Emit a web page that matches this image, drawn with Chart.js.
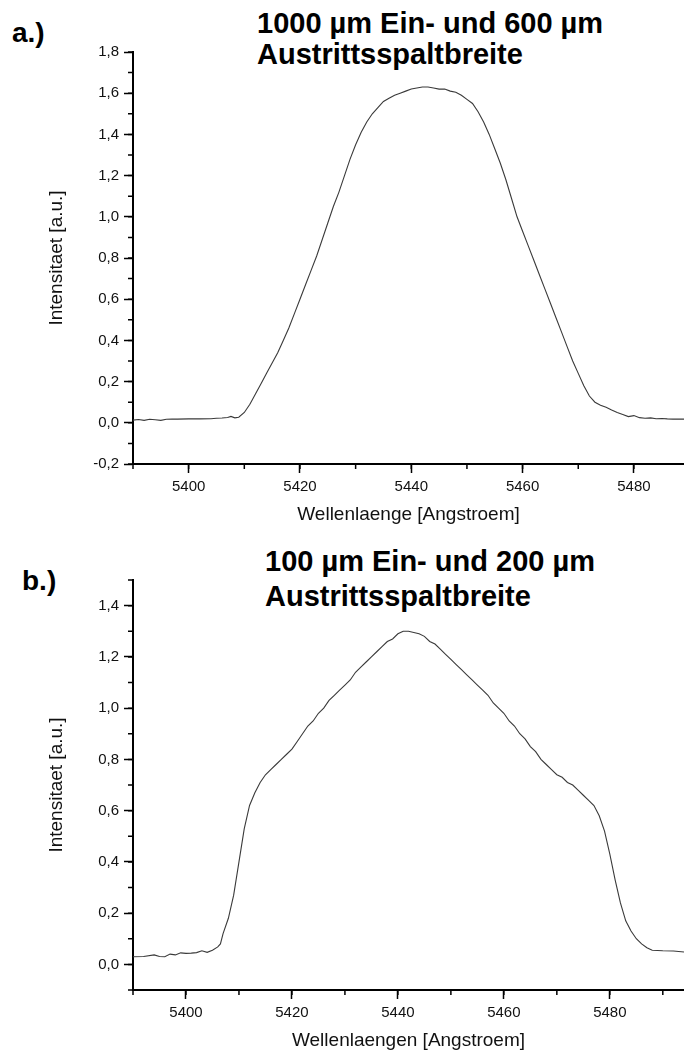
<!DOCTYPE html>
<html>
<head>
<meta charset="utf-8">
<script src="https://cdn.jsdelivr.net/npm/chart.js@4.4.1/dist/chart.umd.min.js"></script>
<style>
  body { margin: 0; background: #fff; width: 684px; height: 1055px; position: relative; overflow: hidden; }
  canvas { position: absolute; left: 0; }
  .title { position: absolute; font-family: "Liberation Sans", Arial, sans-serif; font-weight: bold; color: #000; white-space: nowrap; }
  .main { font-size: 29px; line-height: 31px; left: 257px; }
  .tag { font-size: 28px; line-height: 28px; }
</style>
</head>
<body>
<div class="title tag" style="left:12px; top:19px;">a.)</div>
<div class="title main" style="top:8px;">1000 µm Ein- und 600 µm<br>Austrittsspaltbreite</div>
<canvas id="chartA" width="684" height="526" style="top:0;"></canvas>

<div class="title tag" style="left:22px; top:567px;">b.)</div>
<div class="title main" style="left:265px; top:544px; line-height:35px;">100 µm Ein- und 200 µm<br>Austrittsspaltbreite</div>
<canvas id="chartB" width="684" height="525" style="top:530px;"></canvas>

<script>
// a.) 1000 µm entrance / 600 µm exit slit
const wavelengthsA = [5390, 5391, 5392, 5393, 5394, 5395, 5396, 5397, 5398, 5400, 5402, 5404, 5405, 5406, 5407, 5407.6, 5408.3, 5409,
  5410, 5411, 5412, 5413, 5414, 5415, 5416, 5417, 5418, 5419, 5420, 5421, 5422, 5423, 5424, 5425, 5426, 5427, 5428, 5429,
  5430, 5431, 5432, 5433, 5434, 5435, 5436, 5437, 5438, 5439, 5440, 5441, 5442, 5443, 5444, 5445, 5446, 5447, 5448, 5449,
  5450, 5451, 5452, 5453, 5454, 5455, 5456, 5457, 5458, 5459, 5460, 5461, 5462, 5463, 5464, 5465, 5466, 5467, 5468, 5469,
  5470, 5471, 5472, 5473, 5474, 5475, 5476, 5477, 5478, 5479, 5480, 5481, 5482, 5483, 5484, 5485, 5486, 5487, 5488, 5489];
const intensityA = [0.013, 0.016, 0.012, 0.017, 0.015, 0.012, 0.017, 0.018, 0.018, 0.019, 0.019, 0.020, 0.022, 0.023, 0.026, 0.031, 0.024, 0.027,
  0.05, 0.09, 0.14, 0.19, 0.24, 0.29, 0.34, 0.40, 0.46, 0.53, 0.60, 0.67, 0.74, 0.81, 0.89, 0.97, 1.05, 1.12, 1.20, 1.28,
  1.35, 1.41, 1.46, 1.50, 1.53, 1.56, 1.575, 1.59, 1.60, 1.61, 1.62, 1.625, 1.63, 1.63, 1.625, 1.62, 1.62, 1.61, 1.605, 1.59,
  1.57, 1.55, 1.51, 1.46, 1.40, 1.33, 1.26, 1.18, 1.09, 1.00, 0.93, 0.86, 0.79, 0.72, 0.65, 0.58, 0.51, 0.44, 0.37, 0.30,
  0.24, 0.18, 0.13, 0.10, 0.085, 0.075, 0.062, 0.05, 0.04, 0.03, 0.035, 0.025, 0.022, 0.024, 0.02, 0.021, 0.019, 0.018, 0.018, 0.018];

// b.) 100 µm entrance / 200 µm exit slit
const wavelengthsB = [5390, 5392, 5394, 5395, 5396, 5397, 5398, 5399, 5400, 5401, 5402, 5403, 5404, 5405, 5406, 5406.5, 5407, 5408, 5409,
  5410, 5411, 5412, 5413, 5414, 5415, 5416, 5417, 5418, 5419, 5420, 5421, 5422, 5423, 5424, 5425, 5426, 5427, 5428, 5429,
  5430, 5431, 5432, 5433, 5434, 5435, 5436, 5437, 5438, 5439, 5440, 5441, 5442, 5443, 5444, 5445, 5446, 5447, 5448, 5449,
  5450, 5451, 5452, 5453, 5454, 5455, 5456, 5457, 5458, 5459, 5460, 5461, 5462, 5463, 5464, 5465, 5466, 5467, 5468, 5469,
  5470, 5471, 5472, 5473, 5474, 5475, 5476, 5477, 5478, 5479, 5480, 5481, 5482, 5483, 5484, 5485, 5486, 5487, 5488, 5490, 5492, 5494];
const intensityB = [0.030, 0.031, 0.037, 0.031, 0.030, 0.040, 0.037, 0.045, 0.043, 0.044, 0.046, 0.053, 0.047, 0.055, 0.068, 0.08, 0.12, 0.18, 0.27,
  0.40, 0.53, 0.62, 0.67, 0.71, 0.74, 0.76, 0.78, 0.80, 0.82, 0.84, 0.87, 0.90, 0.93, 0.95, 0.98, 1.00, 1.03, 1.05, 1.07,
  1.09, 1.11, 1.14, 1.16, 1.18, 1.20, 1.22, 1.24, 1.26, 1.27, 1.29, 1.30, 1.30, 1.295, 1.29, 1.28, 1.26, 1.25, 1.23, 1.21,
  1.19, 1.17, 1.15, 1.13, 1.11, 1.09, 1.07, 1.05, 1.02, 1.00, 0.98, 0.95, 0.93, 0.90, 0.88, 0.85, 0.83, 0.80, 0.78, 0.76,
  0.74, 0.73, 0.71, 0.70, 0.68, 0.66, 0.64, 0.62, 0.58, 0.52, 0.43, 0.33, 0.24, 0.17, 0.13, 0.10, 0.08, 0.065, 0.055, 0.053, 0.052, 0.048];

// axis ranges and labelled ticks
const xRangeA = [5390, 5489];
const yRangeA = [-0.2, 1.8];
const xRangeB = [5390, 5494];
const yRangeB = [-0.1, 1.5];
const xTicks = [5400, 5420, 5440, 5460, 5480];
const yTicksA = [-0.2, 0, 0.2, 0.4, 0.6, 0.8, 1.0, 1.2, 1.4, 1.6, 1.8];
const yTicksB = [0, 0.2, 0.4, 0.6, 0.8, 1.0, 1.2, 1.4];
const xMinor = 10, yMinor = 0.1;

const FONT = '"Liberation Sans", Arial, sans-serif';

// short minor ticks between the labelled ones
const minorTicks = {
  id: 'minorTicks',
  afterDraw(chart) {
    const { ctx, chartArea, scales: { x, y } } = chart;
    ctx.save();
    ctx.strokeStyle = '#000';
    ctx.lineWidth = 1.5;
    ctx.beginPath();
    for (let i = Math.ceil(x.min / xMinor); i * xMinor <= x.max; i++) {
      const px = x.getPixelForValue(i * xMinor);
      ctx.moveTo(px, chartArea.bottom);
      ctx.lineTo(px, chartArea.bottom + 5);
    }
    for (let i = Math.ceil(y.min / yMinor - 1e-6); i * yMinor <= y.max + 1e-6; i++) {
      const py = y.getPixelForValue(i * yMinor);
      ctx.moveTo(chartArea.left, py);
      ctx.lineTo(chartArea.left - 5, py);
    }
    ctx.stroke();
    ctx.restore();
  }
};

function makeChart(id, xs, ys, xRange, yRange, yTicks, xTitle, area) {
  return new Chart(document.getElementById(id), {
    type: 'line',
    data: {
      datasets: [{
        data: xs.map((w, i) => ({ x: w, y: ys[i] })),
        borderColor: '#3a3a3a',
        borderWidth: 1.1,
        pointRadius: 0,
        tension: 0,
        fill: false
      }]
    },
    options: {
      responsive: false,
      animation: false,
      layout: { padding: { left: 45, top: area.top, right: 0, bottom: area.bottom } },
      plugins: { legend: { display: false }, tooltip: { enabled: false } },
      scales: {
        x: {
          type: 'linear',
          min: xRange[0],
          max: xRange[1],
          afterBuildTicks: s => { s.ticks = xTicks.map(v => ({ value: v })); },
          afterFit: s => { s.height = area.xh; },
          ticks: { color: '#111', padding: 5, maxRotation: 0, autoSkip: false,
                   font: { family: FONT, size: 15 }, callback: v => String(v) },
          grid: { drawOnChartArea: false, drawTicks: true, tickLength: 9, tickColor: '#000', tickWidth: 1.5 },
          border: { display: true, color: '#000', width: 2 },
          title: { display: true, text: xTitle, color: '#111', padding: 0,
                   font: { family: FONT, size: 19 } }
        },
        y: {
          min: yRange[0],
          max: yRange[1],
          afterBuildTicks: s => { s.ticks = yTicks.map(v => ({ value: v })); },
          afterFit: s => { s.width = 88; },
          ticks: { color: '#111', padding: 5, autoSkip: false,
                   font: { family: FONT, size: 15 },
                   callback: v => v.toFixed(1).replace('.', ',') },
          grid: { drawOnChartArea: false, drawTicks: true, tickLength: 9, tickColor: '#000', tickWidth: 1.5 },
          border: { display: true, color: '#000', width: 2 },
          title: { display: true, text: 'Intensitaet [a.u.]', color: '#111', padding: 0,
                   font: { family: FONT, size: 19 } }
        }
      }
    },
    plugins: [minorTicks]
  });
}

makeChart('chartA', wavelengthsA, intensityA, xRangeA, yRangeA, yTicksA, 'Wellenlaenge [Angstroem]',
  { top: 52, bottom: 0, xh: 62 });
makeChart('chartB', wavelengthsB, intensityB, xRangeB, yRangeB, yTicksB, 'Wellenlaengen [Angstroem]',
  { top: 50, bottom: 3, xh: 62 });
</script>
</body>
</html>
